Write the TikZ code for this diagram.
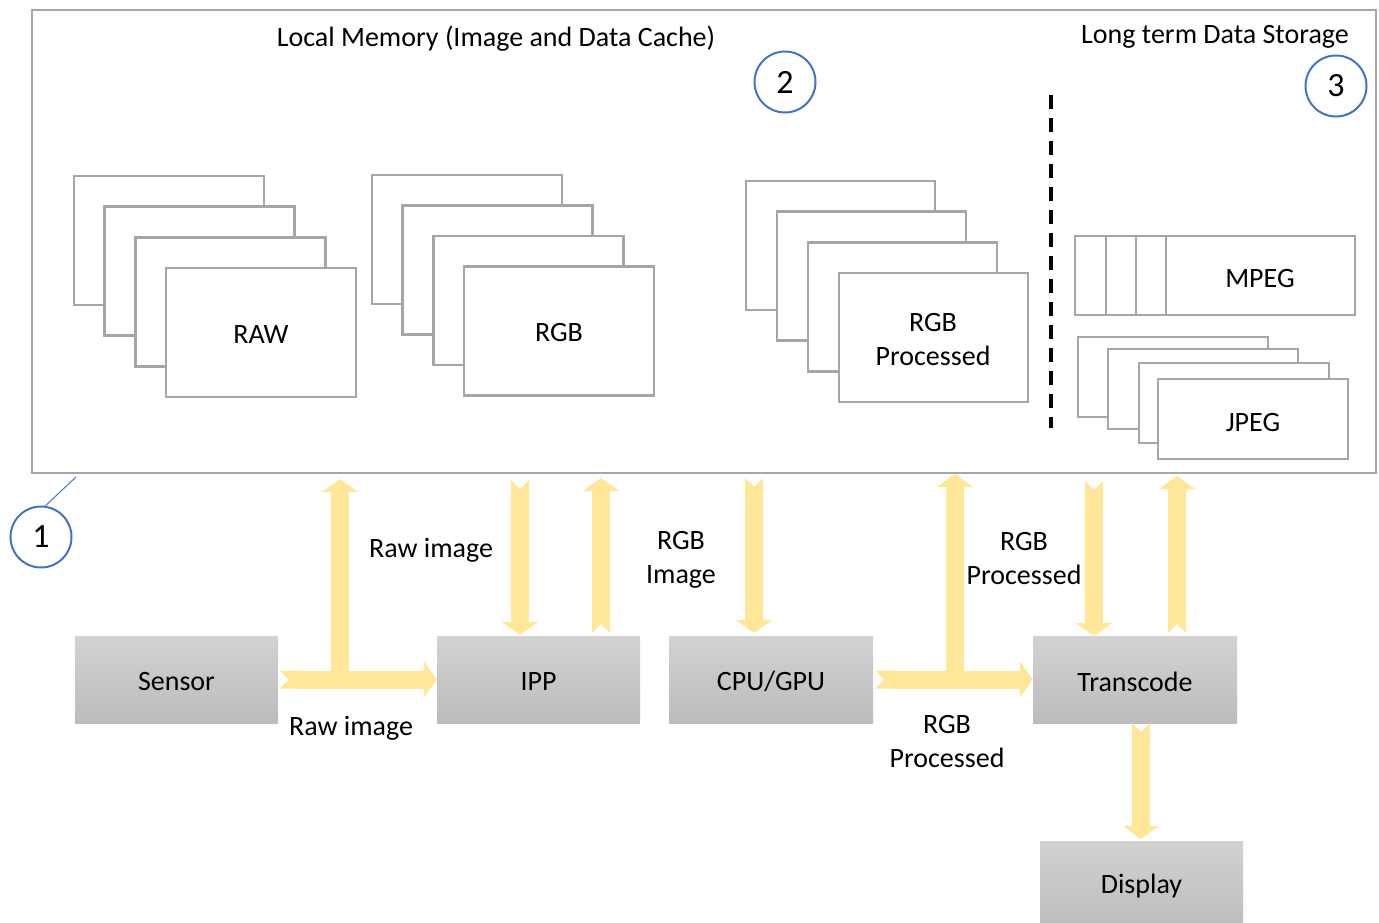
\documentclass[tikz,border=0pt]{standalone}
\usepackage{fontspec}
\setmainfont{Carlito}
\usetikzlibrary{arrows.meta,calc}
\definecolor{frameg}{HTML}{A6A6A6}
\definecolor{ylw}{HTML}{FFE699}
\definecolor{cblue}{HTML}{4472C4}
\definecolor{grayA}{HTML}{D2D2D2}
\definecolor{grayB}{HTML}{BCBCBC}
\newcommand{\lowtxt}[1]{\raisebox{-2pt}[\height][\depth]{#1}}
\begin{document}
\begin{tikzpicture}[x=1pt,y=-1pt,
  every node/.style={font=\fontsize{28}{34}\selectfont, inner sep=0pt, align=center},
  lbl/.style={yshift=-2pt},
  frame/.style={draw=frameg, line width=2.5pt, fill=white},
  proc/.style={minimum width=204pt, minimum height=87pt, top color=grayA, bottom color=grayB, draw=none},
  barrow/.style={draw=ylw, line width=18pt, {Triangle Cap[reversed]}-{Triangle[width=36pt,length=13pt]}},
  bshaft/.style={draw=ylw, line width=18pt, -{Triangle[width=36pt,length=13pt]}},
  callout/.style={circle, draw=cblue, line width=2pt, minimum size=61pt, fill=white, font=\fontsize{34}{40}\selectfont}]
\useasboundingbox (0,0) rectangle (1379,923);

% memory box
\node[draw=frameg, line width=2.2pt, minimum width=1344pt, minimum height=463pt] (mem) at (704,241.5) {};
\node[lbl] (t1) at (496,37) {Local Memory (Image and Data Cache)};
\node[lbl] (t2) at (1215,35) {Long term Data Storage};

% RAW stack
\foreach \i in {0,...,3} \draw[frame] (74+30.7*\i,176+30.7*\i) rectangle ++(190,129);
\node[lbl] (raw) at (261,332.5) {RAW};
% RGB stack
\foreach \i in {0,...,3} \draw[frame] (372+30.7*\i,175+30.5*\i) rectangle ++(190,129);
\node[lbl] (rgb) at (559,331) {RGB};
% RGB processed stack
\foreach \i in {0,...,3} \draw[frame] (746+31*\i,181+30.7*\i) rectangle ++(189,129);
\node[lbl] (rgbp) at (933,338) {RGB\\Processed};

% dashed separator
\draw[black, line width=3.5pt, dash pattern=on 14pt off 9pt] (1051,95) -- (1051,428);

% MPEG
\draw[frame] (1075,236) rectangle (1355,315);
\draw[frameg, line width=2.5pt] (1106,236) -- (1106,315) (1136,236) -- (1136,315) (1166,236) -- (1166,315);
\node[lbl] (mpeg) at (1260,277) {MPEG};
% JPEG stack
\draw[frame] (1078,337) rectangle ++(190,80);
\draw[frame] (1108,349) rectangle ++(190,80);
\draw[frame] (1139,363) rectangle ++(190,80);
\draw[frame] (1158,379) rectangle ++(190,80);
\node[lbl] (jpeg) at (1253,421) {JPEG};

% callouts
\node[callout] (c1) at (41,537) {1};
\draw[cblue, line width=1pt] (c1.82) -- (76,477);
\node[callout] (c2) at (785,82) {2};
\node[callout] (c3) at (1336,86) {3};

% processing boxes
\node[proc, minimum width=203pt] (sensor) at (176.5,679.5) {\lowtxt{Sensor}};
\node[proc, minimum width=203pt] (ipp) at (538.5,679.5) {\lowtxt{IPP}};
\node[proc] (cpu) at (771,679.5) {\lowtxt{CPU/GPU}};
\node[proc] (trans) at (1135,679.5) {\lowtxt{Transcode}};
\node[proc, minimum width=203pt] (disp) at (1141.5,884.5) {\lowtxt{Display}};

% coordinates for arrow ends
\coordinate (j1) at (340,680);
\coordinate (m1) at (340,479);
\coordinate (m2) at (520,480);
\coordinate (i2) at (520,635);
\coordinate (i3) at (601,633);
\coordinate (m3) at (601,478);
\coordinate (m4) at (754,478);
\coordinate (c4) at (754,633);
\coordinate (j2) at (955,679);
\coordinate (m5) at (955,474);
\coordinate (m6) at (1094,481);
\coordinate (t6) at (1094,636);
\coordinate (t7) at (1177,633);
\coordinate (m7) at (1177,476);
\coordinate (t8) at (1141,723);
\coordinate (d8) at (1141,839);

% arrows
\draw[bshaft] (j1) -- (m1);
\draw[barrow] ([xshift=1.5pt]sensor.east) -- (ipp.west);
\draw[barrow] (m2) -- (i2);
\draw[barrow] (i3) -- (m3);
\draw[barrow] (m4) -- (c4);
\draw[bshaft] (j2) -- (m5);
\draw[barrow] ([xshift=2pt]cpu.east) -- (trans.west);
\draw[barrow] (m6) -- (t6);
\draw[barrow] (t7) -- (m7);
\draw[barrow] (t8) -- (d8);

% arrow labels
\node[lbl] (l1) at (431,548) {Raw image};
\node[lbl] (l2) at (351,726) {Raw image};
\node[lbl] (l3) at (681,558) {RGB\\Image};
\node[lbl] (l4) at (1024,557) {RGB\\Processed};
\node[lbl] (l5) at (947,740) {RGB\\Processed};
\end{tikzpicture}
\end{document}
